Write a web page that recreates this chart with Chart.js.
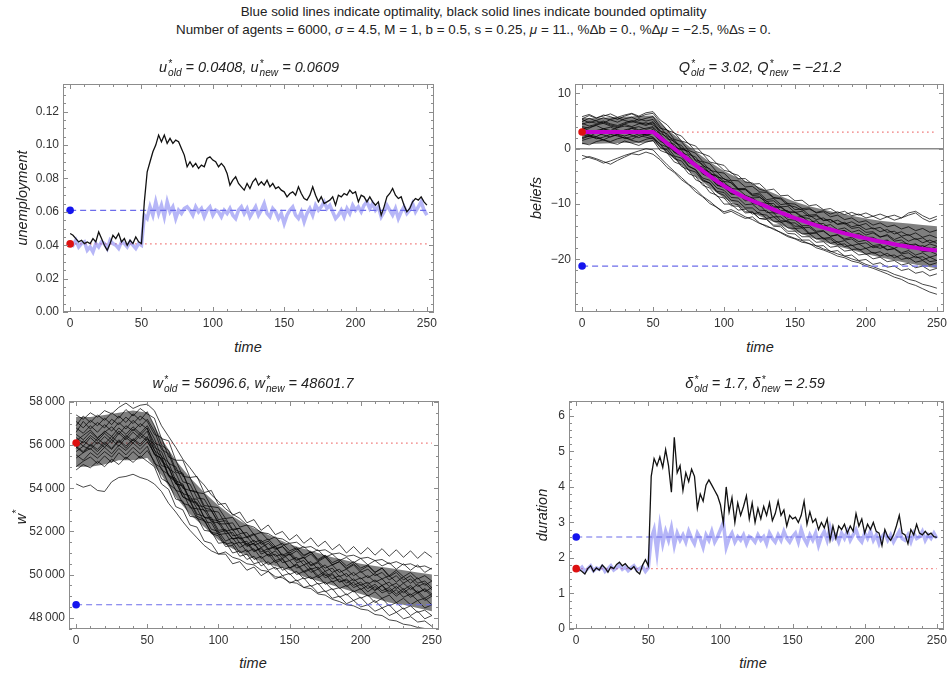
<!DOCTYPE html>
<html>
<head>
<meta charset="utf-8">
<script src="https://cdn.jsdelivr.net/npm/chart.js@4.4.1/dist/chart.umd.min.js"></script>
<style>
  html, body { margin: 0; padding: 0; background: #fff; overflow: hidden; }
  #page { position: relative; width: 947px; height: 677px; font-family: 'Liberation Sans', Arial, sans-serif; color: #222; }
  canvas { position: absolute; }
  .txt { position: absolute; text-align: center; white-space: nowrap; }
  .main { font-size: 13.4px; line-height: 16px; width: 947px; left: 0; }
  .ptitle { font-size: 14.5px; line-height: 18px; width: 400px; font-style: italic; }
  .xt { font-size: 14.5px; line-height: 18px; width: 100px; font-style: italic; }
  .yt { font-size: 14.5px; line-height: 18px; width: 160px; height: 18px; font-style: italic; transform: rotate(-90deg); }
  .ss { display: inline-block; vertical-align: middle; font-size: 0.7em; line-height: 0.95; text-align: left; margin-left: 1px; }
  .ss span { display: block; }
</style>
</head>
<body>
<div id="page">
  <canvas id="cU" width="440" height="258" style="left:0;top:76px"></canvas>
  <canvas id="cQ" width="476" height="258" style="left:480px;top:76px"></canvas>
  <canvas id="cW" width="445" height="258" style="left:0;top:393px"></canvas>
  <canvas id="cD" width="476" height="258" style="left:480px;top:393px"></canvas>

  <div class="txt main" style="top:4px">Blue solid lines indicate optimality, black solid lines indicate bounded optimality</div>
  <div class="txt main" style="top:22px">Number of agents = 6000, <i>σ</i> = 4.5, M = 1, b = 0.5, s = 0.25, <i>μ</i> = 11., %Δb = 0., %Δ<i>μ</i> = −2.5, %Δs = 0.</div>

  <div class="txt ptitle" style="left:49px;top:58px">u<span class="ss"><span>*</span><span>old</span></span> = 0.0408, u<span class="ss"><span>*</span><span>new</span></span> = 0.0609</div>
  <div class="txt ptitle" style="left:560px;top:58px">Q<span class="ss"><span>*</span><span>old</span></span> = 3.02, Q<span class="ss"><span>*</span><span>new</span></span> = −21.2</div>
  <div class="txt ptitle" style="left:53px;top:374px">w<span class="ss"><span>*</span><span>old</span></span> = 56096.6, w<span class="ss"><span>*</span><span>new</span></span> = 48601.7</div>
  <div class="txt ptitle" style="left:555px;top:374px">δ<span class="ss"><span>*</span><span>old</span></span> = 1.7, δ<span class="ss"><span>*</span><span>new</span></span> = 2.59</div>

  <div class="txt xt" style="left:198px;top:338px">time</div>
  <div class="txt xt" style="left:710px;top:338px">time</div>
  <div class="txt xt" style="left:203px;top:654px">time</div>
  <div class="txt xt" style="left:703px;top:654px">time</div>

  <div class="txt yt" style="left:-58px;top:189px">unemployment</div>
  <div class="txt yt" style="left:456px;top:189px">beliefs</div>
  <div class="txt yt" style="left:-63px;top:508px">w<sup style="font-size:0.7em">*</sup></div>
  <div class="txt yt" style="left:462px;top:506px">duration</div>
</div>

<script>
// time grids
const timeFine = [0,2,4,6,8,10,12,14,16,18,20,22,24,26,28,30,32,34,36,38,40,42,44,46,48,50,
  52,54,56,58,60,62,64,66,68,70,72,74,76,78,80,82,84,86,88,90,92,94,96,98,100,
  102,104,106,108,110,112,114,116,118,120,122,124,126,128,130,132,134,136,138,140,142,144,146,148,150,
  152,154,156,158,160,162,164,166,168,170,172,174,176,178,180,182,184,186,188,190,192,194,196,198,200,
  202,204,206,208,210,212,214,216,218,220,222,224,226,228,230,232,234,236,238,240,242,244,246,248,250];
const timeCoarse = [0,5,10,15,20,25,30,35,40,45,50,55,60,65,70,75,80,85,90,95,100,
  105,110,115,120,125,130,135,140,145,150,155,160,165,170,175,180,185,190,195,200,
  205,210,215,220,225,230,235,240,245,250];
const timeBand = [0,10,20,30,40,50,60,70,80,90,100,110,120,130,140,150,160,170,180,190,200,210,220,230,240,250];

const timeTicks = [0, 50, 100, 150, 200, 250];
const uTicks = [0, 0.02, 0.04, 0.06, 0.08, 0.10, 0.12];
const qTicks = [-20, -10, 0, 10];
const wTicks = [48000, 50000, 52000, 54000, 56000, 58000];
const dTicks = [0, 1, 2, 3, 4, 5, 6];

// steady states (old / new)
const uOld = 0.0408, uNew = 0.0609;
const qOld = 3.02, qNew = -21.2;
const wOld = 56096.6, wNew = 48601.7;
const dOld = 1.7, dNew = 2.59;

// unemployment
const uBounded = [0.047,0.046,0.044,0.042,0.043,0.041,0.042,0.041,0.044,0.042,0.048,0.044,0.040,0.037,0.041,0.046,0.044,0.047,0.042,0.044,0.040,0.043,0.041,0.045,0.042,0.041,
  0.066,0.084,0.090,0.096,0.100,0.106,0.102,0.106,0.101,0.104,0.101,0.103,0.102,0.098,0.094,0.087,0.090,0.087,0.089,0.086,0.088,0.087,0.092,0.093,0.091,
  0.090,0.087,0.089,0.087,0.083,0.076,0.079,0.081,0.077,0.075,0.073,0.077,0.074,0.078,0.080,0.076,0.078,0.076,0.079,0.075,0.077,0.074,0.075,0.073,0.072,
  0.069,0.071,0.072,0.070,0.075,0.071,0.068,0.067,0.070,0.075,0.070,0.066,0.069,0.065,0.066,0.067,0.069,0.064,0.070,0.069,0.071,0.070,0.073,0.071,0.072,
  0.066,0.070,0.069,0.066,0.069,0.066,0.064,0.066,0.058,0.063,0.069,0.071,0.074,0.070,0.068,0.069,0.064,0.060,0.062,0.066,0.068,0.067,0.069,0.066,0.064];
const uOptimal = [0.041,0.040,0.043,0.039,0.041,0.042,0.037,0.039,0.036,0.041,0.039,0.042,0.041,0.038,0.043,0.041,0.040,0.038,0.042,0.041,0.039,0.042,0.040,0.038,0.041,0.040,
  0.058,0.056,0.063,0.058,0.066,0.059,0.064,0.057,0.066,0.060,0.063,0.056,0.061,0.059,0.062,0.063,0.061,0.058,0.063,0.060,0.062,0.057,0.061,0.063,0.058,
  0.061,0.060,0.057,0.061,0.059,0.062,0.058,0.056,0.061,0.063,0.059,0.062,0.057,0.060,0.063,0.058,0.061,0.065,0.059,0.057,0.062,0.060,0.056,0.059,0.053,
  0.058,0.061,0.063,0.058,0.056,0.060,0.054,0.059,0.062,0.058,0.064,0.061,0.063,0.066,0.062,0.064,0.060,0.056,0.058,0.061,0.057,0.062,0.059,0.064,0.061,
  0.063,0.060,0.064,0.066,0.062,0.065,0.061,0.063,0.057,0.060,0.064,0.061,0.058,0.062,0.056,0.060,0.063,0.059,0.061,0.065,0.060,0.063,0.066,0.061,0.058];

// duration
const durBounded = [1.72,1.68,1.62,1.55,1.70,1.78,1.62,1.72,1.66,1.80,1.72,1.60,1.75,1.70,1.82,1.88,1.78,1.84,1.74,1.68,1.76,1.62,1.55,1.80,1.95,1.78,
  4.30,4.80,4.60,4.85,4.55,5.05,4.60,3.85,5.40,4.40,4.60,3.90,4.40,4.15,4.50,4.30,3.40,3.80,3.60,4.05,4.20,4.05,3.90,3.75,3.50,
  2.98,4.00,3.30,3.70,3.00,3.55,3.20,3.45,3.75,3.10,3.55,3.00,3.40,3.10,3.45,3.20,3.55,3.05,3.25,3.60,3.20,3.35,2.90,3.20,3.10,
  3.15,3.00,3.20,3.60,2.95,3.30,3.00,3.10,2.80,3.00,2.85,3.10,2.50,2.90,2.55,2.90,2.80,2.95,2.70,2.90,2.75,3.25,2.90,3.10,2.70,
  2.95,2.80,3.00,2.75,2.70,2.35,2.80,2.60,2.50,2.65,2.90,3.20,2.70,2.65,2.40,2.80,2.65,2.95,2.70,2.65,2.75,2.65,2.70,2.60,2.58];
const durOptimal = [1.70,1.66,1.74,1.62,1.70,1.78,1.64,1.72,1.68,1.76,1.62,1.70,1.78,1.66,1.72,1.80,1.68,1.74,1.64,1.72,1.78,1.66,1.70,1.76,1.62,1.72,
  2.55,2.80,2.15,2.90,2.40,2.75,2.50,2.85,2.35,2.70,2.50,2.65,2.45,2.75,2.55,2.40,2.70,2.55,2.30,2.65,2.50,2.75,2.45,2.60,2.80,
  3.00,2.30,2.55,2.70,2.45,2.60,2.50,2.65,2.40,2.60,2.55,2.45,2.65,2.50,2.60,2.40,2.70,2.55,2.45,2.65,2.50,2.75,2.55,2.45,2.60,
  2.70,2.45,2.80,2.55,2.40,2.65,2.50,2.70,2.35,2.60,2.75,2.50,2.85,2.55,2.65,2.45,2.70,2.55,2.75,2.50,2.65,2.80,2.55,2.45,2.70,
  2.55,2.75,2.50,2.65,2.40,2.60,2.70,2.50,2.65,2.45,2.60,2.75,2.55,2.50,2.65,2.45,2.70,2.55,2.60,2.75,2.50,2.65,2.55,2.70,2.55];

// beliefs: mean path (magenta) and individual agents, sampled every 5 periods
const beliefMean = [3.02,3.02,3.02,3.02,3.02,3.02,3.02,3.02,3.02,3.02,3.02,
  2.0,1.0,0.0,-1.0,-2.0,-3.0,-4.0,-4.95,-5.85,-6.7,
  -7.5,-8.2,-8.85,-9.4,-9.9,-10.45,-11.0,-11.55,-12.05,-12.55,
  -13.0,-13.45,-13.85,-14.25,-14.6,-14.95,-15.3,-15.6,-15.9,-16.2,
  -16.5,-16.75,-17.0,-17.25,-17.5,-17.7,-17.9,-18.1,-18.25,-18.4];
// dense core of the belief bundle, every 10 periods
const beliefCoreHigh = [5.6,5.5,5.7,5.8,5.9,6.0,3.5,1.5,-0.5,-2.4,-4.0,-5.3,-6.4,-7.5,-8.6,-9.6,-10.4,-11.0,-11.6,-12.1,-12.6,-13.0,-13.3,-13.5,-13.8,-14.0];
const beliefCoreLow = [0.8,0.9,1.0,1.1,1.0,1.3,-0.8,-2.9,-5.0,-7.0,-8.9,-10.4,-11.6,-12.7,-13.8,-14.9,-15.9,-16.8,-17.6,-18.3,-19.0,-19.6,-20.2,-20.7,-21.2,-21.6];
const beliefPaths = [
  [5.4,6.0,5.5,6.1,5.8,5.3,5.9,6.3,5.7,6.2,6.4, 4.8,3.3,2.9,1.4,1.0,-0.5,-0.9,-2.4,-2.7,-3.9, -4.2,-5.4,-5.4,-6.4,-6.3,-7.5,-7.3,-8.5,-8.4,-9.4, -9.3,-10.3,-10.1,-11.0,-10.8,-11.6,-11.3,-12.1,-11.8,-12.5, -12.2,-12.8,-12.3,-12.9,-12.5,-12.0,-11.6,-12.6,-13.2,-12.7],
  [4.9,5.5,5.0,4.6,5.3,5.6,5.1,4.8,5.4,5.0,5.3, 3.7,3.4,1.7,1.3,-0.3,-0.8,-2.3,-2.7,-4.2,-4.4, -5.7,-5.8,-6.9,-6.8,-7.8,-7.9,-8.9,-8.9,-9.9,-10.0, -10.8,-10.7,-11.6,-11.4,-12.3,-12.0,-12.8,-12.5,-13.3,-13.0, -13.8,-13.4,-14.1,-13.8,-14.5,-14.1,-14.8,-14.4,-15.1,-14.7],
  [4.4,4.9,4.6,5.0,4.5,4.2,4.7,5.1,4.8,4.4,4.9, 3.2,2.7,1.1,0.6,-1.0,-1.5,-3.1,-3.6,-5.1,-5.4, -6.2,-7.4,-7.4,-8.4,-8.3,-9.5,-9.4,-10.5,-10.4,-11.5, -11.3,-12.3,-12.1,-13.0,-12.8,-13.6,-13.3,-14.1,-13.8,-14.6, -14.3,-15.0,-14.6,-15.4,-15.0,-15.7,-15.2,-16.0,-15.6,-16.1],
  [4.0,3.7,4.3,4.6,4.1,3.8,4.4,4.0,4.5,4.7,4.3, 3.3,1.8,1.4,-0.1,-0.5,-2.0,-2.4,-3.9,-4.2,-5.5, -5.8,-7.2,-7.3,-8.5,-8.6,-9.9,-9.9,-11.2,-11.2,-12.5, -12.2,-13.3,-13.0,-14.0,-13.7,-14.6,-14.3,-15.1,-14.7,-15.6, -15.2,-16.0,-15.5,-16.4,-15.9,-16.7,-16.2,-17.0,-16.5,-17.1],
  [3.5,3.9,4.2,3.6,3.3,3.8,4.1,3.9,3.4,3.7,4.0, 2.6,1.2,0.8,-0.7,-1.2,-2.8,-3.7,-4.2,-5.6,-6.0, -7.2,-7.3,-8.4,-8.9,-8.8,-9.5,-10.4,-10.5,-11.4,-11.5, -12.4,-12.6,-13.6,-13.5,-14.5,-14.9,-14.8,-15.8,-15.6,-16.5, -16.3,-17.0,-16.6,-17.4,-17.0,-17.2,-17.8,-17.5,-18.1,-17.7],
  [3.0,2.7,3.3,3.6,3.1,2.8,3.4,3.7,3.2,2.9,3.5, 1.7,1.2,-0.4,-0.9,-2.5,-3.0,-4.6,-5.1,-6.6,-7.0, -8.2,-8.3,-9.4,-9.3,-10.3,-10.4,-11.4,-11.5,-12.4,-12.5, -12.8,-13.7,-13.6,-14.4,-14.3,-15.0,-14.8,-15.6,-15.3,-16.0, -16.0,-16.7,-16.5,-17.4,-17.3,-18.1,-17.8,-18.6,-18.5,-19.1],
  [2.9,2.5,2.2,2.8,3.1,2.6,2.3,2.7,3.0,2.4,2.8, 1.3,0.9,-0.6,-1.0,-2.5,-2.9,-4.4,-4.8,-6.2,-6.4, -7.8,-8.0,-9.2,-9.2,-10.3,-10.5,-11.6,-11.7,-12.8,-12.9, -13.9,-13.9,-14.9,-14.8,-15.8,-15.6,-16.5,-16.3,-17.2,-17.0, -17.9,-17.5,-18.3,-18.0,-18.8,-18.4,-19.2,-18.8,-19.6,-19.2],
  [2.0,2.4,1.8,2.1,2.6,2.3,1.9,2.2,2.7,2.5,2.1, 0.8,0.3,-1.3,-1.7,-3.2,-3.8,-5.3,-5.7,-7.1,-7.5, -8.8,-8.9,-10.1,-10.0,-11.1,-11.2,-12.3,-12.3,-13.4,-13.4, -14.3,-14.2,-15.1,-14.9,-15.8,-15.5,-16.3,-16.0,-16.8,-16.5, -17.5,-17.3,-18.2,-18.1,-19.0,-18.8,-19.7,-19.5,-20.4,-20.2],
  [1.5,1.9,2.2,1.6,1.3,1.8,2.1,1.5,1.2,1.7,2.0, 0.2,-0.2,-1.8,-2.2,-3.8,-4.2,-5.8,-6.2,-7.7,-7.9, -9.3,-9.5,-10.7,-10.7,-11.8,-12.0,-13.1,-13.2,-14.3,-14.4, -15.4,-15.3,-16.3,-16.1,-17.1,-16.8,-17.7,-17.4,-18.3,-18.0, -18.9,-18.6,-19.4,-19.2,-20.0,-19.7,-20.5,-20.2,-21.0,-20.6],
  [1.0,0.7,1.3,1.6,1.1,0.8,1.4,1.0,0.6,1.2,1.5, -0.3,-0.8,-2.4,-2.9,-4.5,-5.0,-6.6,-7.1,-8.6,-8.9, -10.3,-10.4,-11.6,-11.5,-12.6,-12.7,-13.8,-13.8,-14.9,-14.9, -15.9,-15.9,-16.9,-16.8,-17.8,-17.6,-18.5,-18.3,-19.2,-19.0, -19.9,-19.6,-20.4,-20.2,-21.0,-20.7,-21.5,-21.2,-22.0,-21.6],
  [5.3,4.7,5.1,5.6,5.2,4.8,5.4,5.7,5.1,5.5,5.8, 4.0,2.3,1.6,0.1,-0.5,-2.2,-2.8,-4.5,-5.0,-6.4, -7.0,-8.4,-8.6,-9.9,-10.1,-11.5,-11.6,-13.0,-13.1,-14.4, -14.3,-15.4,-15.2,-16.2,-16.0,-16.9,-16.6,-17.5,-17.2,-18.0, -17.6,-18.0,-17.5,-18.0,-17.4,-17.9,-17.3,-17.8,-17.2,-17.6],
  [2.6,2.2,2.9,2.5,2.1,2.7,3.0,2.4,2.0,2.6,2.8, 1.6,0.3,0.0,-1.3,-1.6,-3.0,-3.3,-4.6,-4.8,-5.9, -6.1,-7.3,-7.2,-8.2,-8.0,-9.2,-9.0,-10.1,-9.9,-11.0, -10.9,-12.0,-11.9,-12.9,-12.8,-13.7,-13.5,-14.4,-14.2,-15.1, -15.0,-15.9,-15.7,-16.7,-16.5,-17.4,-17.2,-18.1,-17.9,-18.6],
  [3.8,3.3,3.0,3.6,3.9,3.4,3.1,3.7,4.0,3.5,3.8, 1.8,1.1,-0.7,-1.3,-3.1,-3.8,-5.6,-6.2,-7.9,-8.4, -9.9,-10.1,-11.4,-11.4,-12.6,-12.8,-14.0,-14.1,-15.3,-15.4, -16.5,-16.5,-17.6,-17.5,-18.6,-18.4,-19.4,-19.2,-20.2,-20.0, -20.9,-20.6,-21.4,-21.2,-22.0,-21.7,-22.5,-22.2,-23.0,-22.6],
  [-1.2,-1.6,-2.0,-2.6,-2.2,-1.7,-1.2,-0.8,-0.4,0.0,-0.2, -1.6,-2.9,-4.1,-5.2,-6.4,-7.3,-8.6,-9.5,-10.6,-11.4, -11.0,-11.6,-12.3,-12.8,-13.5,-13.9,-14.6,-15.1,-15.7,-16.2, -16.6,-17.2,-17.5,-18.1,-18.5,-19.0,-19.4,-19.9,-20.3,-20.9, -21.3,-21.8,-22.1,-22.7,-23.1,-23.6,-23.9,-24.5,-24.8,-25.2],
  [-1.9,-1.4,-1.8,-2.3,-2.8,-2.1,-1.5,-0.9,-1.1,-0.6,-1.0, -2.0,-3.4,-4.3,-5.6,-6.5,-7.8,-8.7,-9.9,-10.6,-11.7, -11.3,-12.0,-12.6,-12.3,-13.4,-14.1,-14.4,-15.2,-15.9,-16.3, -16.9,-17.1,-17.9,-18.3,-18.8,-19.4,-19.7,-20.3,-20.6,-21.2, -21.6,-22.1,-22.6,-23.2,-23.6,-24.3,-24.7,-25.3,-25.9,-26.3],
  [5.8,6.2,5.6,5.9,6.3,5.7,6.1,6.4,5.9,6.5,6.7, 5.2,4.3,2.8,2.3,0.9,0.5,-0.9,-1.4,-2.7,-3.0, -4.4,-4.8,-6.0,-6.2,-7.3,-7.7,-8.8,-9.1,-10.2,-10.5, -11.1,-10.9,-11.5,-11.2,-11.8,-11.4,-11.9,-11.5,-12.0,-11.6, -12.2,-11.8,-12.3,-12.0,-12.5,-11.6,-11.3,-12.1,-12.7,-12.2],
  [4.6,4.1,4.4,4.8,4.3,4.0,4.5,4.9,4.6,4.2,4.7, 2.8,2.1,0.4,-0.2,-1.9,-2.6,-4.2,-4.9,-6.5,-6.9, -8.1,-8.2,-9.1,-8.9,-9.8,-9.8,-10.7,-10.6,-11.5,-11.4, -12.2,-12.0,-12.8,-12.5,-13.3,-12.9,-13.6,-13.2,-13.9,-13.5, -14.5,-14.2,-15.1,-14.9,-15.8,-15.5,-16.4,-16.1,-17.0,-16.6],
  [1.8,2.3,2.0,1.6,2.2,2.5,1.9,1.7,2.4,2.1,1.8, 0.9,-0.8,-1.4,-3.2,-3.8,-5.6,-6.2,-7.9,-8.4,-10.0, -10.0,-11.1,-10.9,-11.8,-11.5,-12.6,-12.3,-13.3,-13.0,-14.0, -14.0,-15.2,-15.2,-16.3,-16.3,-17.3,-17.2,-18.2,-18.1,-19.1, -18.7,-19.4,-18.9,-19.7,-19.2,-19.9,-19.4,-20.1,-19.6,-20.2]
];

// reservation wage w*: dense core every 10 periods, individual agents every 5 periods
const wageCoreHigh = [57300,57300,57400,57500,57600,57500,56300,55300,54500,53800,53200,52700,52300,52000,51700,51400,51200,51000,50800,50650,50500,50400,50300,50200,50100,50000];
const wageCoreLow = [55000,55000,55100,55300,55300,55400,54600,53600,52800,52200,51600,51200,50900,50600,50400,50200,49900,49700,49500,49300,49100,48900,48700,48600,48450,48300];
const wagePaths = [
  [56900,57350,57050,57400,57150,57500,57250,57650,57350,57700,57450, 57250,56300,56200,55300,55300,54500,54550,53800,53900,53250, 53300,52750,52900,52400,52550,52050,52300,51850,52000,51600, 51850,51450,51700,51300,51550,51150,51400,51000,51300,50950, 51250,50900,51200,50850,51150,50800,51100,50750,51050,50800],
  [56600,57100,56750,57050,56800,57200,56950,57300,57000,57350,57100, 56500,56350,55450,55300,54550,54500,53800,53750,53150,53100, 52600,52650,52200,52300,51850,51950,51600,51750,51350,51450, 51150,51300,51000,51150,50800,50950,50650,50800,50550,50750, 50450,50650,50400,50550,50250,50500,50200,50450,50100,50300],
  [56800,56550,56900,56600,56950,56650,57050,56750,57150,56850,57200, 56650,55800,55600,54750,54650,53900,53850,53200,53150,52550, 52600,52100,52150,51700,51850,51400,51550,51200,51300,50900, 51100,50750,50950,50600,50800,50450,50600,50300,50500,50200, 50400,50100,50300,49950,50200,49900,50100,49800,49950,49700],
  [56200,56450,56700,56350,56600,56850,56500,56900,56650,57000,56750, 56100,55950,55150,55000,54300,54200,53550,53500,52950,52900, 52350,52400,51900,51950,51500,51600,51200,51300,50850,50950, 50650,50800,50450,50600,50300,50450,50100,50250,49950,50150, 49850,50050,49800,49950,49650,49900,49600,49850,49500,49700],
  [56350,56100,56450,56200,56550,56250,56650,56350,56750,56450,56800, 55900,55700,54900,54700,54000,53900,53200,53150,52550,52500, 52000,52100,51650,51750,51350,51500,51150,51300,50900,51050, 50700,50800,50400,50550,50150,50300,49900,50050,49700,49850, 49550,49750,49500,49650,49350,49600,49300,49550,49200,49400],
  [55850,56200,55950,56300,56050,56400,56100,56450,56200,56550,56300, 56050,55250,55000,54200,54100,53400,53300,52650,52650,52050, 52100,51650,51700,51300,51450,51050,51200,50850,50950,50650, 50800,50450,50600,50250,50450,50100,50250,49900,50100,49800, 49950,49650,49800,49450,49600,49300,49500,49150,49300,49000],
  [55950,55700,56050,55800,56150,55850,56250,55950,56300,56050,56400, 55550,55400,54600,54450,53750,53650,53050,53000,52450,52400, 51900,51950,51450,51550,51100,51200,50850,50950,50550,50650, 50300,50450,50100,50250,49850,50000,49650,49800,49500,49650, 49350,49550,49250,49400,49100,49350,49050,49250,48900,49100],
  [55400,55650,55850,55550,55900,55600,56000,55750,56100,55800,56150, 55650,54850,54650,53900,53800,53100,53050,52450,52400,51850, 51900,51400,51500,51050,51200,50750,50950,50550,50700,50300, 50500,50150,50300,49950,50150,49800,49950,49600,49800,49500, 49650,49300,49500,49100,49300,48950,49100,48800,48900,48600],
  [55550,55300,55650,55400,55700,55450,55850,55550,55900,55600,55950, 55150,54950,54200,53950,53300,53200,52600,52500,51950,51900, 51400,51500,51000,51150,50700,50850,50450,50650,50200,50350, 50000,50150,49800,49950,49550,49700,49350,49500,49200,49350, 49000,49200,48900,49050,48700,48900,48600,48800,48450,48600],
  [55000,55250,55450,55150,55500,55200,55650,55350,55700,55400,55750, 55250,54450,54250,53500,53400,52700,52650,52050,52000,51450, 51500,51000,51100,50700,50850,50400,50600,50250,50350,50000, 50150,49800,49900,49550,49650,49300,49400,49050,49250,48900, 49050,48700,48900,48550,48700,48400,48550,48250,48350,48100],
  [57100,56800,57150,56900,57250,56950,57350,57050,57450,57150,57550, 56900,56000,55750,54850,54700,53900,53800,53100,53000,52350, 52350,51800,51850,51350,51450,50950,51100,50650,50750,50300, 50450,50100,50250,49850,50050,49650,49800,49450,49650,49300, 49500,49250,49500,49200,49450,49150,49400,49150,49350,49100],
  [55900,55650,56000,55700,56050,55800,56200,55850,56250,55950,56300, 55800,55050,54950,54200,54150,53500,53500,52950,52950,52450, 52500,52050,52150,51750,51900,51500,51650,51300,51450,51100, 51250,50900,51050,50650,50850,50450,50600,50250,50450,50100, 50250,49950,50100,49750,49950,49600,49800,49450,49600,49300],
  [56250,55950,56350,56050,56400,56100,56550,56250,56600,56300,56650, 55750,55500,54600,54350,53600,53400,52700,52550,51900,51800, 51300,51350,50850,50950,50500,50600,50200,50350,49950,50050, 49700,49850,49450,49600,49200,49350,48950,49100,48800,48950, 48600,48800,48450,48600,48250,48450,48100,48300,47950,48100],
  [54200,54050,54150,53900,53850,54300,54500,54550,54650,54500,54400, 54200,53850,53300,52900,52450,52050,51700,51350,51100,50950, 51050,50800,50700,50500,50450,50200,50150,49900,49850,49650, 49600,49400,49350,49100,49050,48850,48750,48600,48550,48400, 48350,48150,48100,47900,47850,47700,47650,47550,47500,47450],
  [57400,57200,57500,57300,57600,57450,57750,57950,57700,57850,57900, 57600,56900,56400,55900,55350,54950,54500,54150,53700,53400, 53050,52800,52600,52300,52200,51950,51900,51700,51650,51450, 51500,51250,51300,51100,51150,50950,51000,50850,50900,50750, 50800,50650,50700,50500,50600,50450,50500,50350,50400,50250],
  [54850,55100,54950,55250,55000,55350,55100,55450,55200,55500,55250, 55000,54200,53950,53150,53000,52300,52200,51550,51450,50950, 50950,50500,50600,50200,50350,49950,50150,49800,49950,49600, 49750,49400,49500,49150,49250,48900,49000,48650,48800,48500, 48600,48300,48450,48100,48250,47950,48050,47800,47850,47600],
  [56500,56250,56600,56300,56650,56400,56800,56500,56850,56550,56900, 56300,55450,55200,54350,54200,53450,53350,52650,52550,51950, 52050,51650,51750,51400,51600,51250,51450,51150,51300,51000, 51200,50850,51050,50700,50900,50550,50700,50400,50600,50300, 50450,50100,50300,49900,50100,49750,49950,49600,49700,49400],
  [55700,55950,55800,56150,55900,56250,55950,56350,56100,56450,56200, 55600,55350,54550,54300,53600,53450,52800,52700,52100,52000, 51550,51700,51250,51450,51050,51250,50900,51100,50750,50950, 50550,50650,50250,50350,49950,50050,49650,49750,49400,49550, 49200,49450,49150,49300,49000,49250,48950,49150,48800,49000]
];

const xMin = -5, xMax = 255;
const tickFont = { family: "'Liberation Sans', Arial, sans-serif", size: 12 };
const tickColor = '#333';
const redDot = '#dd1111', blueDot = '#1515ee';
const dashBlue = '#6c6cea', dotRed = '#ee7070';
const lightBlue = 'rgba(110,110,240,0.5)';
const pathColor = 'rgba(0,0,0,0.85)';
const coreFill = 'rgba(0,0,0,0.5)';

function pts(xs, ys) {
  return ys.map((y, i) => ({ x: xs[i], y: y }));
}
function hline(y, x0 = 0, x1 = 250) {
  return [{ x: x0, y: y }, { x: x1, y: y }];
}
function dot(y, color) {
  return { data: [{ x: 0, y: y }], showLine: false, pointRadius: 3.8, pointBackgroundColor: color, pointBorderWidth: 0, order: 0 };
}
function refLines(oldV, newV) {
  return [
    { data: hline(newV), borderColor: dashBlue, borderWidth: 1.2, borderDash: [6, 4], order: 2 },
    { data: hline(oldV), borderColor: dotRed, borderWidth: 1.3, borderDash: [1.5, 3.5], order: 5 }
  ];
}
// shaded core of a bundle: upper edge fills down to the next dataset (lower edge)
function core(high, low) {
  return [
    { data: pts(timeBand, high), borderWidth: 0, fill: '+1', backgroundColor: coreFill, order: 4 },
    { data: pts(timeBand, low), borderWidth: 0, order: 4 }
  ];
}
function paths(list) {
  return list.map(p => ({ data: pts(timeCoarse, p), borderColor: pathColor, borderWidth: 0.85, order: 3 }));
}

// Mathematica-like frame with inward major/minor ticks on all four sides
const framePlugin = {
  id: 'frame',
  afterDatasetsDraw(chart, args, o) {
    const { ctx, chartArea: a } = chart;
    const xs = chart.scales.x, ys = chart.scales.y;
    ctx.save();
    ctx.strokeStyle = '#8c8c8c';
    ctx.lineWidth = 1;
    ctx.strokeRect(a.left + 0.5, a.top + 0.5, a.width - 1, a.height - 1);
    ctx.beginPath();
    const n0 = Math.ceil(xs.min / o.xMinor), n1 = Math.floor(xs.max / o.xMinor);
    for (let i = n0; i <= n1; i++) {
      const len = i % o.xSub === 0 ? 5 : 3;
      const px = Math.round(xs.getPixelForValue(i * o.xMinor)) + 0.5;
      ctx.moveTo(px, a.bottom); ctx.lineTo(px, a.bottom - len);
      ctx.moveTo(px, a.top); ctx.lineTo(px, a.top + len);
    }
    const m0 = Math.ceil(ys.min / o.yMinor - 1e-6), m1 = Math.floor(ys.max / o.yMinor + 1e-6);
    for (let i = m0; i <= m1; i++) {
      const len = ((i % o.ySub) + o.ySub) % o.ySub === 0 ? 5 : 3;
      const py = Math.round(ys.getPixelForValue(i * o.yMinor)) + 0.5;
      ctx.moveTo(a.left, py); ctx.lineTo(a.left + len, py);
      ctx.moveTo(a.right, py); ctx.lineTo(a.right - len, py);
    }
    ctx.stroke();
    ctx.restore();
  }
};

function makePanel(id, p) {
  return new Chart(document.getElementById(id), {
    type: 'line',
    data: { datasets: p.datasets },
    options: {
      responsive: false,
      animation: false,
      devicePixelRatio: 1,
      layout: { padding: { top: 8, right: p.padRight, bottom: 0, left: 0 } },
      elements: { point: { radius: 0 }, line: { tension: 0 } },
      plugins: {
        legend: { display: false },
        tooltip: { enabled: false },
        frame: { xMinor: 10, xSub: 5, yMinor: p.yMinor, ySub: p.ySub }
      },
      scales: {
        x: {
          type: 'linear', min: xMin, max: xMax,
          grid: { display: false, drawTicks: false }, border: { display: false },
          afterBuildTicks: s => { s.ticks = timeTicks.map(v => ({ value: v })); },
          afterFit: s => { s.height = 22; s.paddingLeft = 0; s.paddingRight = 0; },
          ticks: { padding: 4, font: tickFont, color: tickColor, maxRotation: 0, autoSkip: false }
        },
        y: {
          type: 'linear', min: p.yMin, max: p.yMax,
          grid: { display: false, drawTicks: false }, border: { display: false },
          afterBuildTicks: s => { s.ticks = p.yTicks.map(v => ({ value: v })); },
          afterFit: s => { s.width = p.yWidth; s.paddingTop = 0; s.paddingBottom = 0; },
          ticks: { padding: 4, font: tickFont, color: tickColor, autoSkip: false, callback: p.fmt }
        }
      }
    },
    plugins: [framePlugin]
  });
}

const minus = v => (v < 0 ? '\u2212' + Math.abs(v) : String(v));

makePanel('cU', {
  yMin: 0, yMax: 0.1366, yTicks: uTicks, yMinor: 0.005, ySub: 4, yWidth: 63, padRight: 6,
  fmt: v => v.toFixed(2),
  datasets: [
    dot(uNew, blueDot), dot(uOld, redDot),
    { data: pts(timeFine, uBounded), borderColor: '#111', borderWidth: 1.3, order: 1 },
    { data: pts(timeFine, uOptimal), borderColor: lightBlue, borderWidth: 3.5, order: 3 },
    ...refLines(uOld, uNew)
  ]
});

makePanel('cQ', {
  yMin: -29.5, yMax: 11.7, yTicks: qTicks, yMinor: 2, ySub: 5, yWidth: 95, padRight: 12,
  fmt: minus,
  datasets: [
    dot(qOld, redDot), dot(qNew, blueDot),
    { data: pts(timeCoarse, beliefMean), borderColor: 'rgb(200,0,210)', borderWidth: 4, order: 1 },
    ...paths(beliefPaths),
    ...core(beliefCoreHigh, beliefCoreLow),
    ...refLines(qOld, qNew),
    { data: hline(0, xMin, xMax), borderColor: '#8a8a8a', borderWidth: 1.3, order: 6 }
  ]
});

makePanel('cW', {
  yMin: 47477, yMax: 58046, yTicks: wTicks, yMinor: 500, ySub: 4, yWidth: 69, padRight: 6,
  fmt: v => String(v).replace(/(\d{2})(\d{3})$/, '$1\u2009$2'),
  datasets: [
    dot(wOld, redDot), dot(wNew, blueDot),
    ...paths(wagePaths),
    ...core(wageCoreHigh, wageCoreLow),
    ...refLines(wOld, wNew)
  ]
});

makePanel('cD', {
  yMin: 0, yMax: 6.42, yTicks: dTicks, yMinor: 0.2, ySub: 5, yWidth: 89, padRight: 12,
  fmt: v => String(v),
  datasets: [
    dot(dNew, blueDot), dot(dOld, redDot),
    { data: pts(timeFine, durBounded), borderColor: '#111', borderWidth: 1.3, order: 1 },
    { data: pts(timeFine, durOptimal), borderColor: lightBlue, borderWidth: 3.5, order: 3 },
    ...refLines(dOld, dNew)
  ]
});
</script>
</body>
</html>
